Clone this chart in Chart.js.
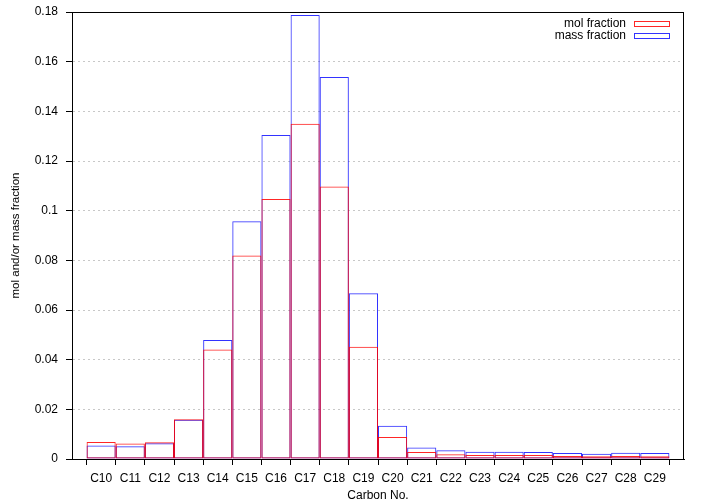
<!DOCTYPE html>
<html>
<head>
<meta charset="utf-8">
<script src="https://cdn.jsdelivr.net/npm/chart.js@4/dist/chart.umd.min.js"></script>
<style>
html,body{margin:0;padding:0;background:#fff;}
#wrap{width:705px;height:504px;position:relative;}
</style>
</head>
<body>
<div id="wrap"><canvas id="c" width="705" height="504"></canvas></div>
<script>
const categories = ['C10','C11','C12','C13','C14','C15','C16','C17','C18','C19','C20','C21','C22','C23','C24','C25','C26','C27','C28','C29'];
const molFraction  = [0.0068,0.0062,0.0067,0.0160,0.0441,0.0819,0.1047,0.1350,0.1097,0.0452,0.0089,0.0028,0.0019,0.0016,0.0016,0.0016,0.0012,0.0011,0.0012,0.0011];
const massFraction = [0.0054,0.0051,0.0063,0.0158,0.0479,0.0957,0.1305,0.1788,0.1538,0.0667,0.0134,0.0046,0.0035,0.0029,0.0029,0.0028,0.0024,0.0021,0.0025,0.0024];
const yTicks = [0,0.02,0.04,0.06,0.08,0.1,0.12,0.14,0.16,0.18];
const seriesNames = ['mol fraction','mass fraction'];
const FONT = 'Liberation Sans, Arial, sans-serif';

const frame = {
  id: 'frame',
  afterDraw(chart) {
    const {ctx, chartArea: a} = chart;
    ctx.save();
    ctx.strokeStyle = '#000';
    ctx.lineWidth = 1;
    ctx.strokeRect(Math.round(a.left) + 0.5, Math.round(a.top) + 0.5, Math.round(a.right - a.left) - 1, Math.round(a.bottom - a.top));
    // legend
    ctx.font = '12px ' + FONT;
    ctx.textAlign = 'right';
    ctx.textBaseline = 'middle';
    chart.data.datasets.forEach((ds, i) => {
      const y = 24 + i * 12;
      ctx.fillStyle = '#000';
      ctx.fillText(ds.label, 626, y);
      ctx.strokeStyle = ds.borderColor;
      ctx.strokeRect(634.5, y - 2.5, 35, 5);
    });
    ctx.restore();
  }
};

new Chart(document.getElementById('c'), {
  type: 'bar',
  data: {
    datasets: [
      { label: seriesNames[0], data: molFraction.map((v, i) => ({x: i, y: v})),
        borderColor: 'rgba(255,0,0,0.85)', backgroundColor: 'rgba(0,0,0,0)', borderWidth: 1, borderSkipped: false, inflateAmount: 0 },
      { label: seriesNames[1], data: massFraction.map((v, i) => ({x: i, y: v})),
        borderColor: 'rgba(0,0,255,0.8)', backgroundColor: 'rgba(0,0,0,0)', borderWidth: 1, borderSkipped: false, inflateAmount: 0 }
    ]
  },
  options: {
    responsive: false,
    animation: false,
    devicePixelRatio: 1,
    grouped: false,
    barPercentage: 1,
    categoryPercentage: 1,
    layout: { padding: { top: 12, right: 21, left: 0, bottom: 0 } },
    plugins: { legend: { display: false }, tooltip: { enabled: false } },
    scales: {
      x: {
        type: 'linear', min: -1, max: 20, offset: false,
        afterBuildTicks(s) { s.ticks = categories.map((c, i) => ({value: i})); },
        afterFit(s) { s.height = 45; s.paddingLeft = 0; s.paddingRight = 0; },
        ticks: { callback: (v) => categories[v] ?? '', color: '#000', font: { family: FONT, size: 12 }, padding: 6, maxRotation: 0, autoSkip: false },
        grid: { drawOnChartArea: false, tickLength: 6, tickColor: '#000' },
        border: { color: '#000', width: 1 },
        title: { display: true, text: 'Carbon No.', color: '#000', font: { family: FONT, size: 12 }, padding: { top: 2, bottom: 1 } }
      },
      y: {
        min: 0, max: 0.18,
        afterBuildTicks(s) { s.ticks = yTicks.map(v => ({value: v})); },
        afterFit(s) { s.width = 72; s.paddingTop = 0; s.paddingBottom = 0; },
        ticks: { callback: (v) => String(+v.toFixed(2)), color: '#000', font: { family: FONT, size: 12 }, padding: 8 },
        grid: { color: (ctx) => (ctx.tick && (ctx.tick.value === 0 || ctx.tick.value === 0.18)) ? 'rgba(0,0,0,0)' : '#c8c8c8', tickLength: 6, tickColor: '#000' },
        border: { color: '#000', width: 1, dash: [2, 3] },
        title: { display: true, text: 'mol and/or mass fraction', color: '#000', font: { family: FONT, size: 11.5 }, padding: { top: 9, bottom: 0 } }
      }
    }
  },
  plugins: [frame]
});
</script>
</body>
</html>
